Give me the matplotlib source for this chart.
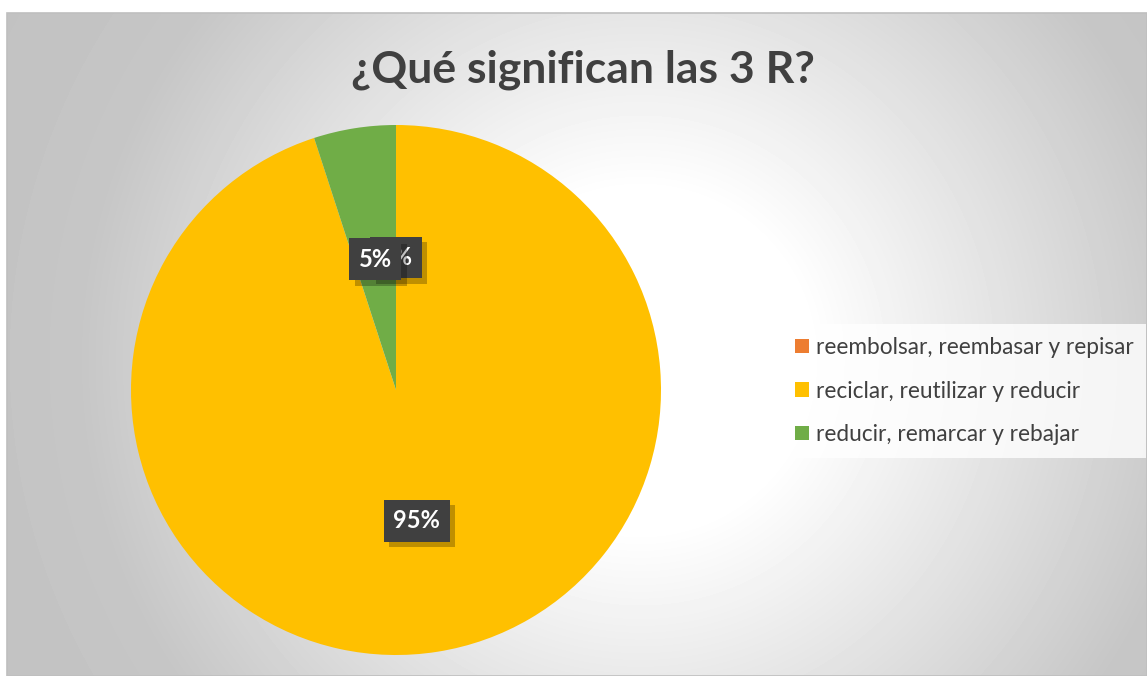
import numpy as np
import matplotlib
matplotlib.use("Agg")
import matplotlib.pyplot as plt
from matplotlib.patches import Rectangle
import matplotlib.transforms as mtransforms

plt.rcParams['font.family'] = ['Lato', 'DejaVu Sans']

# data
labels = ['reembolsar, reembasar y repisar',
          'reciclar, reutilizar y reducir',
          'reducir, remarcar y rebajar']
values = [0, 19, 1]
colors = ['#ED7D31', '#FFC000', '#70AD47']
title = '¿Qué significan las 3 R?'

W, H = 1147, 676
fig = plt.figure(figsize=(W / 100, H / 100), dpi=100)

# chart area background (radial grey gradient)
bg = fig.add_axes([7 / W, 0, 1 - 7 / W, (H - 13) / H])
yy, xx = np.mgrid[13:H, 7:W]
d = np.hypot(xx - 640, yy - 360)
v = 255 - np.clip((d - 170) / 390, 0, 1) * 57 - np.clip((d - 560) / 160, 0, 1) * 4
bg.imshow(v / 255, cmap='gray', vmin=0, vmax=1, aspect='auto', interpolation='bilinear')
bg.set_axis_off()
fig.add_artist(Rectangle((7 / W, 0), 1 - 7 / W, (H - 13) / H, transform=fig.transFigure,
                         fill=False, edgecolor='#bfbfbf', linewidth=1.2))

# pie
ax = fig.add_axes([131 / W, 21 / H, 530 / W, 530 / H])
wedges, texts, autotexts = ax.pie(values, colors=colors, startangle=90, counterclock=False,
                                  autopct='%1.0f%%', pctdistance=0.5,
                                  wedgeprops=dict(linewidth=0))
ax.set_xlim(-1, 1)
ax.set_ylim(-1, 1)
ax.set_aspect('equal')

# data labels: dark boxes with a drop shadow
z = 5
for t in autotexts:
    x, y = t.get_position()
    s = t.get_text()
    shadow_tr = ax.transData + mtransforms.ScaledTranslation(4 / 72, -4 / 72, fig.dpi_scale_trans)
    ax.text(x, y, s, transform=shadow_tr, ha='center', va='center', fontsize=17,
            fontweight='bold', color='none', zorder=z,
            bbox=dict(boxstyle='square,pad=0.4', facecolor='black', alpha=0.25, edgecolor='none'))
    t.set_fontsize(17)
    t.set_fontweight('bold')
    t.set_color('white')
    t.set_zorder(z + 1)
    t.set_bbox(dict(boxstyle='square,pad=0.4', facecolor='#404040', edgecolor='none'))
    z += 2

# title
fig.text(0.508, 0.897, title, ha='center', va='center', fontsize=32,
         fontweight='bold', color='#404040')

# legend
leg = fig.legend(wedges, labels, loc='center left', bbox_to_anchor=(783 / W, (H - 391) / H),
                 fontsize=16.3, frameon=True, fancybox=False, handlelength=0.6, handleheight=0.6,
                 handletextpad=0.3, labelspacing=1.0, borderpad=0.55, borderaxespad=0)
leg.get_frame().set_facecolor((1, 1, 1, 0.3))
leg.get_frame().set_edgecolor('none')
for txt in leg.get_texts():
    txt.set_color('#404040')

fig.savefig('out.png', dpi=100)
